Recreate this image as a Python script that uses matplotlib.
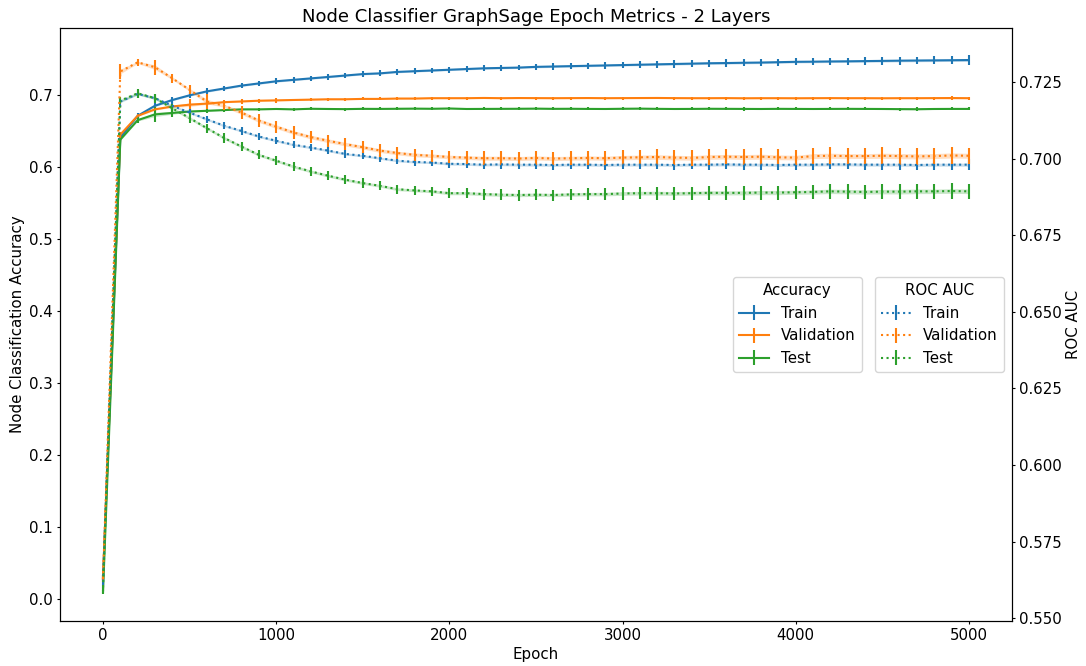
import numpy as np
import matplotlib.pyplot as plt

plt.rcParams["font.size"] = 10.8
plt.rcParams["xtick.major.size"] = 2.5
plt.rcParams["ytick.major.size"] = 2.5
plt.rcParams["xtick.major.pad"] = 2.5
plt.rcParams["ytick.major.pad"] = 2.5
plt.rcParams["axes.labelpad"] = 3.0
plt.rcParams["axes.titlepad"] = 4.5

epochs = np.arange(0, 5001, 100)

# accuracy (left axis)
acc_train = [0.030, 0.641, 0.671, 0.685, 0.693, 0.6995, 0.705, 0.709, 0.713, 0.716,
             0.719, 0.721, 0.723, 0.725, 0.727, 0.729, 0.730, 0.732, 0.733, 0.734,
             0.735, 0.736, 0.737, 0.7375, 0.738, 0.739, 0.7395, 0.740, 0.7405, 0.741,
             0.7415, 0.742, 0.7425, 0.743, 0.7435, 0.744, 0.7443, 0.7447, 0.745, 0.7455,
             0.746, 0.7462, 0.7465, 0.7467, 0.747, 0.7473, 0.7476, 0.7478, 0.748, 0.7482,
             0.7485]
acc_val = [0.030, 0.645, 0.671, 0.680, 0.684, 0.6865, 0.688, 0.690, 0.691, 0.692,
           0.6925, 0.693, 0.6935, 0.694, 0.694, 0.6945, 0.6945, 0.695, 0.695, 0.6955,
           0.6955, 0.6955, 0.6958, 0.6955, 0.6957, 0.6956, 0.6955, 0.6956, 0.6957, 0.6955,
           0.6956, 0.6957, 0.6958, 0.6956, 0.6955, 0.6955, 0.6956, 0.6954, 0.6955, 0.6955,
           0.6954, 0.6955, 0.6956, 0.6955, 0.6955, 0.6954, 0.6955, 0.6955, 0.6956, 0.6957,
           0.6955]
acc_test = [0.010, 0.638, 0.665, 0.673, 0.675, 0.677, 0.678, 0.679, 0.680, 0.680,
            0.6805, 0.680, 0.6808, 0.6805, 0.6803, 0.6807, 0.6806, 0.6808, 0.681, 0.6808,
            0.6812, 0.6805, 0.6806, 0.6807, 0.6808, 0.681, 0.6807, 0.6808, 0.6806, 0.6805,
            0.6808, 0.681, 0.6807, 0.6805, 0.6806, 0.6808, 0.6807, 0.6806, 0.6805, 0.6807,
            0.6806, 0.6805, 0.6806, 0.6807, 0.6806, 0.6805, 0.6803, 0.6802, 0.6805, 0.6806,
            0.6806]
acc_train_err = [0.003, 0.004, 0.004, 0.004, 0.004, 0.004, 0.004, 0.004, 0.004, 0.004,
                 0.004, 0.004, 0.004, 0.004, 0.004, 0.004, 0.004, 0.004, 0.004, 0.004,
                 0.004, 0.004, 0.004, 0.004, 0.004, 0.0045, 0.0045, 0.0045, 0.0045, 0.0045,
                 0.0045, 0.0045, 0.005, 0.005, 0.005, 0.005, 0.005, 0.005, 0.005, 0.005,
                 0.005, 0.005, 0.005, 0.005, 0.005, 0.0055, 0.0055, 0.0055, 0.0055, 0.0055,
                 0.007]
acc_val_err = [0.003, 0.004, 0.003, 0.004, 0.004, 0.008, 0.004, 0.003, 0.003, 0.003,
               0.003, 0.002, 0.002, 0.002, 0.002, 0.002, 0.002, 0.002, 0.002, 0.002,
               0.002, 0.002, 0.002, 0.002, 0.002, 0.002, 0.002, 0.002, 0.002, 0.002,
               0.002, 0.002, 0.002, 0.002, 0.002, 0.002, 0.002, 0.002, 0.002, 0.002,
               0.002, 0.002, 0.002, 0.002, 0.002, 0.002, 0.002, 0.002, 0.002, 0.003,
               0.002]
acc_test_err = [0.003, 0.004, 0.004, 0.010, 0.006, 0.003, 0.003, 0.002, 0.002, 0.002,
                0.002, 0.002, 0.002, 0.002, 0.002, 0.002, 0.002, 0.002, 0.002, 0.002,
                0.002, 0.002, 0.002, 0.002, 0.002, 0.002, 0.002, 0.002, 0.002, 0.002,
                0.002, 0.002, 0.002, 0.002, 0.002, 0.002, 0.002, 0.003, 0.002, 0.002,
                0.002, 0.002, 0.002, 0.002, 0.002, 0.002, 0.002, 0.003, 0.002, 0.002,
                0.002]

# ROC AUC (right axis)
auc_train = [0.562, 0.7186, 0.7211, 0.7197, 0.7172, 0.7150, 0.7128, 0.7107, 0.7090, 0.7072,
             0.7058, 0.7045, 0.7036, 0.7026, 0.7015, 0.7009, 0.7001, 0.6993, 0.6989, 0.6987,
             0.6983, 0.6982, 0.6980, 0.6981, 0.6980, 0.6980, 0.6979, 0.6980, 0.6980, 0.6979,
             0.6980, 0.6980, 0.6980, 0.6979, 0.6980, 0.6980, 0.6981, 0.6980, 0.6980, 0.6979,
             0.6980, 0.6980, 0.6981, 0.6981, 0.6980, 0.6980, 0.6980, 0.6979, 0.6980, 0.6980,
             0.6980]
auc_val = [0.563, 0.7284, 0.7314, 0.7298, 0.7262, 0.7224, 0.7186, 0.7172, 0.7150, 0.7124,
           0.7104, 0.7085, 0.7070, 0.7058, 0.7047, 0.7037, 0.7026, 0.7018, 0.7012, 0.7009,
           0.7005, 0.7003, 0.7001, 0.7001, 0.7000, 0.7002, 0.7000, 0.7001, 0.7002, 0.7001,
           0.7003, 0.7004, 0.7005, 0.7003, 0.7002, 0.7005, 0.7006, 0.7005, 0.7006, 0.7004,
           0.7003, 0.7008, 0.7009, 0.7008, 0.7008, 0.7009, 0.7008, 0.7007, 0.7008, 0.7010,
           0.7009]
auc_test = [0.560, 0.7189, 0.7213, 0.7197, 0.7164, 0.7132, 0.7099, 0.7067, 0.7039, 0.7012,
            0.6993, 0.6974, 0.6958, 0.6944, 0.6931, 0.6920, 0.6911, 0.6900, 0.6896, 0.6893,
            0.6887, 0.6887, 0.6884, 0.6882, 0.6881, 0.6882, 0.6881, 0.6883, 0.6884, 0.6884,
            0.6886, 0.6887, 0.6887, 0.6886, 0.6887, 0.6888, 0.6888, 0.6888, 0.6889, 0.6889,
            0.6890, 0.6891, 0.6893, 0.6892, 0.6891, 0.6892, 0.6892, 0.6893, 0.6893, 0.6894,
            0.6893]
auc_train_err = [0.001, 0.0012, 0.0012, 0.0012, 0.0012, 0.0012, 0.0012, 0.0012, 0.0012, 0.0012,
                 0.0012, 0.0012, 0.0012, 0.0012, 0.0012, 0.0012, 0.0012, 0.0012, 0.0012, 0.0012,
                 0.0014, 0.0014, 0.0014, 0.0014, 0.0015, 0.0015, 0.0015, 0.0015, 0.0015, 0.0016,
                 0.0015, 0.0015, 0.0015, 0.0015, 0.0015, 0.0016, 0.0016, 0.0016, 0.0016, 0.0016,
                 0.0016, 0.0016, 0.0016, 0.0016, 0.0016, 0.0016, 0.0016, 0.0016, 0.0016, 0.0016,
                 0.0017]
auc_val_err = [0.001, 0.0025, 0.0012, 0.0025, 0.0015, 0.0015, 0.0025, 0.0015, 0.0020, 0.0020,
               0.0020, 0.0020, 0.0020, 0.0020, 0.0020, 0.0020, 0.0020, 0.0020, 0.0020, 0.0020,
               0.0020, 0.0020, 0.0022, 0.0022, 0.0022, 0.0022, 0.0022, 0.0022, 0.0022, 0.0022,
               0.0024, 0.0024, 0.0025, 0.0025, 0.0025, 0.0025, 0.0025, 0.0026, 0.0027, 0.0026,
               0.0025, 0.0027, 0.0028, 0.0027, 0.0026, 0.0028, 0.0028, 0.0028, 0.0027, 0.0028,
               0.0027]
auc_test_err = [0.001, 0.0012, 0.0015, 0.0015, 0.0015, 0.0015, 0.0015, 0.0015, 0.0015, 0.0015,
                0.0015, 0.0015, 0.0015, 0.0015, 0.0015, 0.0015, 0.0015, 0.0015, 0.0015, 0.0015,
                0.0017, 0.0017, 0.0018, 0.0018, 0.0018, 0.0018, 0.0018, 0.0019, 0.0019, 0.0019,
                0.0020, 0.0020, 0.0021, 0.0021, 0.0021, 0.0022, 0.0022, 0.0022, 0.0023, 0.0023,
                0.0022, 0.0023, 0.0024, 0.0024, 0.0023, 0.0024, 0.0025, 0.0025, 0.0024, 0.0025,
                0.0025]

splits = ["Train", "Validation", "Test"]
colors = ["tab:blue", "tab:orange", "tab:green"]


def draw(ax, x, y, err, color, ls, label):
    y = np.array(y)
    err = np.array(err)
    ax.fill_between(x, y - err * 0.3, y + err * 0.3, color=color, alpha=0.25, lw=0)
    return ax.errorbar(x, y, yerr=err, color=color, ls=ls, lw=1.5, elinewidth=1.5,
                       label=label)


fig, ax = plt.subplots(figsize=(10.86, 6.66), dpi=100)
ax2 = ax.twinx()

h1 = []
for name, c, y, e in zip(splits, colors, [acc_train, acc_val, acc_test],
                         [acc_train_err, acc_val_err, acc_test_err]):
    h1.append(draw(ax, epochs, y, e, c, "-", name))

h2 = []
for name, c, y, e in zip(splits, colors, [auc_train, auc_val, auc_test],
                         [auc_train_err, auc_val_err, auc_test_err]):
    h2.append(draw(ax2, epochs, y, e, c, ":", name))

ax.set_ylim(-0.031, 0.793)
ax2.set_ylim(0.549, 0.7426)
ax.set_xlim(-250, 5250)
ax.set_xlabel("Epoch")
ax.set_ylabel("Node Classification Accuracy")
ax2.set_ylabel("ROC AUC")
ax.set_title("Node Classifier GraphSage Epoch Metrics - 2 Layers")

leg1 = ax2.legend(handles=h1, title="Accuracy", loc="center right",
                  bbox_to_anchor=(0.85, 0.5))
ax2.add_artist(leg1)
ax2.legend(handles=h2, title="ROC AUC", loc="center right",
           bbox_to_anchor=(0.999, 0.5))

plt.subplots_adjust(left=0.055, right=0.932, top=0.958, bottom=0.067)
plt.savefig("out.png")
